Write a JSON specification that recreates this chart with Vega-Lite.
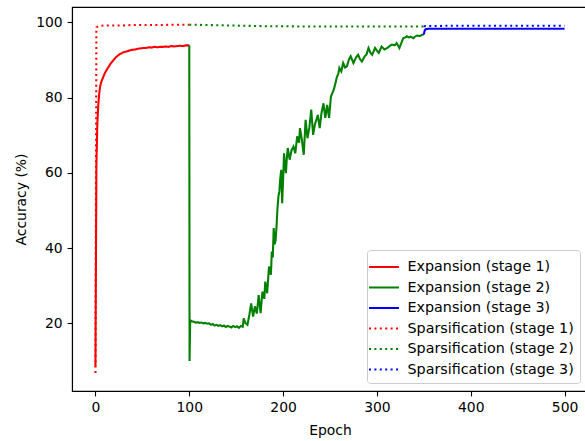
{
"$schema": "https://vega.github.io/schema/vega-lite/v6.json",
"autosize": "none",
"padding": {"left": 72, "top": 7, "right": 0, "bottom": 50},
"width": 516,
"height": 384,
"background": "white",
"config": {
"font": "DejaVu Sans",
"view": {"stroke": "black", "strokeWidth": 1.1},
"axis": {"domainColor": "black", "domainWidth": 1.1, "tickColor": "black", "tickWidth": 1.1, "tickSize": 4.9, "labelFontSize": 13.9, "labelColor": "black", "titleFontSize": 13.9, "titleFontWeight": "normal", "titleColor": "black", "grid": false, "labelPadding": 4.9, "labelFont": "DejaVu Sans", "titleFont": "DejaVu Sans"},
"legend": {"symbolType": "M-1.5,0H1.5", "symbolSize": 400, "symbolStrokeWidth": 2.1, "labelFontSize": 14.3, "labelFont": "DejaVu Sans", "labelColor": "black", "labelOffset": 12, "padding": 5.5, "fillColor": "rgba(255,255,255,0.8)", "strokeColor": "#cccccc", "cornerRadius": 3, "rowPadding": 1.5, "labelLimit": 300}
},
"data": {"values": [
{"series":"Expansion (stage 1)","epoch":0,"acc":8.5},{"series":"Expansion (stage 1)","epoch":1,"acc":62},{"series":"Expansion (stage 1)","epoch":2,"acc":73},{"series":"Expansion (stage 1)","epoch":3,"acc":78},{"series":"Expansion (stage 1)","epoch":4,"acc":81},{"series":"Expansion (stage 1)","epoch":5,"acc":83},{"series":"Expansion (stage 1)","epoch":6,"acc":84},{"series":"Expansion (stage 1)","epoch":8,"acc":85.3},{"series":"Expansion (stage 1)","epoch":10,"acc":86.5},{"series":"Expansion (stage 1)","epoch":12,"acc":87.4},{"series":"Expansion (stage 1)","epoch":14,"acc":88.2},{"series":"Expansion (stage 1)","epoch":16,"acc":89},{"series":"Expansion (stage 1)","epoch":18,"acc":89.6},{"series":"Expansion (stage 1)","epoch":20,"acc":90.2},{"series":"Expansion (stage 1)","epoch":22,"acc":90.8},{"series":"Expansion (stage 1)","epoch":24,"acc":91.2},{"series":"Expansion (stage 1)","epoch":26,"acc":91.6},{"series":"Expansion (stage 1)","epoch":28,"acc":91.8},{"series":"Expansion (stage 1)","epoch":30,"acc":92.1},{"series":"Expansion (stage 1)","epoch":33,"acc":92.3},{"series":"Expansion (stage 1)","epoch":36,"acc":92.5},{"series":"Expansion (stage 1)","epoch":39,"acc":92.7},{"series":"Expansion (stage 1)","epoch":42,"acc":92.8},{"series":"Expansion (stage 1)","epoch":45,"acc":93.0},{"series":"Expansion (stage 1)","epoch":48,"acc":93.1},{"series":"Expansion (stage 1)","epoch":51,"acc":93.2},{"series":"Expansion (stage 1)","epoch":54,"acc":93.2},{"series":"Expansion (stage 1)","epoch":57,"acc":93.4},{"series":"Expansion (stage 1)","epoch":60,"acc":93.3},{"series":"Expansion (stage 1)","epoch":63,"acc":93.5},{"series":"Expansion (stage 1)","epoch":66,"acc":93.4},{"series":"Expansion (stage 1)","epoch":69,"acc":93.5},{"series":"Expansion (stage 1)","epoch":72,"acc":93.5},{"series":"Expansion (stage 1)","epoch":75,"acc":93.6},{"series":"Expansion (stage 1)","epoch":78,"acc":93.5},{"series":"Expansion (stage 1)","epoch":81,"acc":93.7},{"series":"Expansion (stage 1)","epoch":84,"acc":93.6},{"series":"Expansion (stage 1)","epoch":87,"acc":93.7},{"series":"Expansion (stage 1)","epoch":90,"acc":93.8},{"series":"Expansion (stage 1)","epoch":93,"acc":93.7},{"series":"Expansion (stage 1)","epoch":96,"acc":93.9},{"series":"Expansion (stage 1)","epoch":100,"acc":93.9},
{"series":"Expansion (stage 2)","epoch":100,"acc":93.9},{"series":"Expansion (stage 2)","epoch":100.3,"acc":10.0},{"series":"Expansion (stage 2)","epoch":101,"acc":20.8},{"series":"Expansion (stage 2)","epoch":103,"acc":20.5},{"series":"Expansion (stage 2)","epoch":105,"acc":20.4},{"series":"Expansion (stage 2)","epoch":107,"acc":20.2},{"series":"Expansion (stage 2)","epoch":109,"acc":20.3},{"series":"Expansion (stage 2)","epoch":111,"acc":20.1},{"series":"Expansion (stage 2)","epoch":113,"acc":20.2},{"series":"Expansion (stage 2)","epoch":115,"acc":20.0},{"series":"Expansion (stage 2)","epoch":117,"acc":20.1},{"series":"Expansion (stage 2)","epoch":119,"acc":19.9},{"series":"Expansion (stage 2)","epoch":121,"acc":20.0},{"series":"Expansion (stage 2)","epoch":123,"acc":19.6},{"series":"Expansion (stage 2)","epoch":125,"acc":19.8},{"series":"Expansion (stage 2)","epoch":127,"acc":19.4},{"series":"Expansion (stage 2)","epoch":129,"acc":19.6},{"series":"Expansion (stage 2)","epoch":131,"acc":19.3},{"series":"Expansion (stage 2)","epoch":133,"acc":19.5},{"series":"Expansion (stage 2)","epoch":135,"acc":19.2},{"series":"Expansion (stage 2)","epoch":137,"acc":19.4},{"series":"Expansion (stage 2)","epoch":139,"acc":19.0},{"series":"Expansion (stage 2)","epoch":141,"acc":19.3},{"series":"Expansion (stage 2)","epoch":143,"acc":19.1},{"series":"Expansion (stage 2)","epoch":145,"acc":18.9},{"series":"Expansion (stage 2)","epoch":147,"acc":19.3},{"series":"Expansion (stage 2)","epoch":149,"acc":19.0},{"series":"Expansion (stage 2)","epoch":151,"acc":19.2},{"series":"Expansion (stage 2)","epoch":153,"acc":18.8},{"series":"Expansion (stage 2)","epoch":155,"acc":19.3},{"series":"Expansion (stage 2)","epoch":157,"acc":19.1},{"series":"Expansion (stage 2)","epoch":158,"acc":21.3},{"series":"Expansion (stage 2)","epoch":160,"acc":20.0},{"series":"Expansion (stage 2)","epoch":162,"acc":19.6},{"series":"Expansion (stage 2)","epoch":164,"acc":22.2},{"series":"Expansion (stage 2)","epoch":166,"acc":25.3},{"series":"Expansion (stage 2)","epoch":168,"acc":21.8},{"series":"Expansion (stage 2)","epoch":170,"acc":24.5},{"series":"Expansion (stage 2)","epoch":172,"acc":22.6},{"series":"Expansion (stage 2)","epoch":174,"acc":27.5},{"series":"Expansion (stage 2)","epoch":176,"acc":22.7},{"series":"Expansion (stage 2)","epoch":178,"acc":28.4},{"series":"Expansion (stage 2)","epoch":180,"acc":26.5},{"series":"Expansion (stage 2)","epoch":181,"acc":31.1},{"series":"Expansion (stage 2)","epoch":183,"acc":28.0},{"series":"Expansion (stage 2)","epoch":185,"acc":35.1},{"series":"Expansion (stage 2)","epoch":187,"acc":32.9},{"series":"Expansion (stage 2)","epoch":188,"acc":39.1},{"series":"Expansion (stage 2)","epoch":189,"acc":37.5},{"series":"Expansion (stage 2)","epoch":190,"acc":45.3},{"series":"Expansion (stage 2)","epoch":191,"acc":41.0},{"series":"Expansion (stage 2)","epoch":192,"acc":42.0},{"series":"Expansion (stage 2)","epoch":193,"acc":45.7},{"series":"Expansion (stage 2)","epoch":194,"acc":50.5},{"series":"Expansion (stage 2)","epoch":195,"acc":53.7},{"series":"Expansion (stage 2)","epoch":196,"acc":55.0},{"series":"Expansion (stage 2)","epoch":197,"acc":58.5},{"series":"Expansion (stage 2)","epoch":198,"acc":60.8},{"series":"Expansion (stage 2)","epoch":199,"acc":51.9},{"series":"Expansion (stage 2)","epoch":200,"acc":58.0},{"series":"Expansion (stage 2)","epoch":201,"acc":65.2},{"series":"Expansion (stage 2)","epoch":202,"acc":62.0},{"series":"Expansion (stage 2)","epoch":203,"acc":59.9},{"series":"Expansion (stage 2)","epoch":204,"acc":64.0},{"series":"Expansion (stage 2)","epoch":205,"acc":66.6},{"series":"Expansion (stage 2)","epoch":207,"acc":63.5},{"series":"Expansion (stage 2)","epoch":209,"acc":66.0},{"series":"Expansion (stage 2)","epoch":211,"acc":67.0},{"series":"Expansion (stage 2)","epoch":213,"acc":65.2},{"series":"Expansion (stage 2)","epoch":215,"acc":69.7},{"series":"Expansion (stage 2)","epoch":217,"acc":68.0},{"series":"Expansion (stage 2)","epoch":218,"acc":71.9},{"series":"Expansion (stage 2)","epoch":220,"acc":68.8},{"series":"Expansion (stage 2)","epoch":222,"acc":64.8},{"series":"Expansion (stage 2)","epoch":224,"acc":74.1},{"series":"Expansion (stage 2)","epoch":226,"acc":69.2},{"series":"Expansion (stage 2)","epoch":228,"acc":72.0},{"series":"Expansion (stage 2)","epoch":230,"acc":76.8},{"series":"Expansion (stage 2)","epoch":232,"acc":70.1},{"series":"Expansion (stage 2)","epoch":234,"acc":73.0},{"series":"Expansion (stage 2)","epoch":236,"acc":74.5},{"series":"Expansion (stage 2)","epoch":237,"acc":75.4},{"series":"Expansion (stage 2)","epoch":239,"acc":71.9},{"series":"Expansion (stage 2)","epoch":241,"acc":76.0},{"series":"Expansion (stage 2)","epoch":243,"acc":78.5},{"series":"Expansion (stage 2)","epoch":245,"acc":74.6},{"series":"Expansion (stage 2)","epoch":247,"acc":78.1},{"series":"Expansion (stage 2)","epoch":249,"acc":74.6},{"series":"Expansion (stage 2)","epoch":251,"acc":80.3},{"series":"Expansion (stage 2)","epoch":254,"acc":82.1},{"series":"Expansion (stage 2)","epoch":256,"acc":84.0},{"series":"Expansion (stage 2)","epoch":257,"acc":85.2},{"series":"Expansion (stage 2)","epoch":259,"acc":86.5},{"series":"Expansion (stage 2)","epoch":260,"acc":87.9},{"series":"Expansion (stage 2)","epoch":262,"acc":87.0},{"series":"Expansion (stage 2)","epoch":264,"acc":89.2},{"series":"Expansion (stage 2)","epoch":266,"acc":88.0},{"series":"Expansion (stage 2)","epoch":268,"acc":88.3},{"series":"Expansion (stage 2)","epoch":270,"acc":90.0},{"series":"Expansion (stage 2)","epoch":272,"acc":91.0},{"series":"Expansion (stage 2)","epoch":275,"acc":89.2},{"series":"Expansion (stage 2)","epoch":278,"acc":90.8},{"series":"Expansion (stage 2)","epoch":280,"acc":91.4},{"series":"Expansion (stage 2)","epoch":282,"acc":90.2},{"series":"Expansion (stage 2)","epoch":284,"acc":89.6},{"series":"Expansion (stage 2)","epoch":287,"acc":91.0},{"series":"Expansion (stage 2)","epoch":289,"acc":91.5},{"series":"Expansion (stage 2)","epoch":291,"acc":93.2},{"series":"Expansion (stage 2)","epoch":293,"acc":92.0},{"series":"Expansion (stage 2)","epoch":295,"acc":91.4},{"series":"Expansion (stage 2)","epoch":298,"acc":93.2},{"series":"Expansion (stage 2)","epoch":300,"acc":92.5},{"series":"Expansion (stage 2)","epoch":302,"acc":91.9},{"series":"Expansion (stage 2)","epoch":305,"acc":93.6},{"series":"Expansion (stage 2)","epoch":308,"acc":92.8},{"series":"Expansion (stage 2)","epoch":311,"acc":93.2},{"series":"Expansion (stage 2)","epoch":314,"acc":93.8},{"series":"Expansion (stage 2)","epoch":316,"acc":94.1},{"series":"Expansion (stage 2)","epoch":319,"acc":93.9},{"series":"Expansion (stage 2)","epoch":321,"acc":94.5},{"series":"Expansion (stage 2)","epoch":324,"acc":93.2},{"series":"Expansion (stage 2)","epoch":326,"acc":94.5},{"series":"Expansion (stage 2)","epoch":328,"acc":95.8},{"series":"Expansion (stage 2)","epoch":330,"acc":96.0},{"series":"Expansion (stage 2)","epoch":332,"acc":96.3},{"series":"Expansion (stage 2)","epoch":334,"acc":96.0},{"series":"Expansion (stage 2)","epoch":336,"acc":96.2},{"series":"Expansion (stage 2)","epoch":339,"acc":95.8},{"series":"Expansion (stage 2)","epoch":341,"acc":96.3},{"series":"Expansion (stage 2)","epoch":343,"acc":96.5},{"series":"Expansion (stage 2)","epoch":346,"acc":96.4},{"series":"Expansion (stage 2)","epoch":348,"acc":96.7},{"series":"Expansion (stage 2)","epoch":350,"acc":96.8},
{"series":"Expansion (stage 3)","epoch":350,"acc":96.8},{"series":"Expansion (stage 3)","epoch":351,"acc":97.9},{"series":"Expansion (stage 3)","epoch":352,"acc":98.2},{"series":"Expansion (stage 3)","epoch":355,"acc":98.3},{"series":"Expansion (stage 3)","epoch":360,"acc":98.3},{"series":"Expansion (stage 3)","epoch":380,"acc":98.3},{"series":"Expansion (stage 3)","epoch":400,"acc":98.3},{"series":"Expansion (stage 3)","epoch":420,"acc":98.3},{"series":"Expansion (stage 3)","epoch":440,"acc":98.3},{"series":"Expansion (stage 3)","epoch":460,"acc":98.3},{"series":"Expansion (stage 3)","epoch":480,"acc":98.3},{"series":"Expansion (stage 3)","epoch":500,"acc":98.3},
{"series":"Sparsification (stage 1)","epoch":0,"acc":6.8},{"series":"Sparsification (stage 1)","epoch":1,"acc":98.7},{"series":"Sparsification (stage 1)","epoch":3,"acc":99.0},{"series":"Sparsification (stage 1)","epoch":6,"acc":99.1},{"series":"Sparsification (stage 1)","epoch":10,"acc":99.2},{"series":"Sparsification (stage 1)","epoch":20,"acc":99.2},{"series":"Sparsification (stage 1)","epoch":30,"acc":99.2},{"series":"Sparsification (stage 1)","epoch":40,"acc":99.3},{"series":"Sparsification (stage 1)","epoch":50,"acc":99.3},{"series":"Sparsification (stage 1)","epoch":60,"acc":99.3},{"series":"Sparsification (stage 1)","epoch":70,"acc":99.3},{"series":"Sparsification (stage 1)","epoch":80,"acc":99.4},{"series":"Sparsification (stage 1)","epoch":90,"acc":99.4},{"series":"Sparsification (stage 1)","epoch":100,"acc":99.4},
{"series":"Sparsification (stage 2)","epoch":100,"acc":99.4},{"series":"Sparsification (stage 2)","epoch":120,"acc":99.3},{"series":"Sparsification (stage 2)","epoch":140,"acc":99.2},{"series":"Sparsification (stage 2)","epoch":160,"acc":99.1},{"series":"Sparsification (stage 2)","epoch":180,"acc":99.0},{"series":"Sparsification (stage 2)","epoch":200,"acc":99.0},{"series":"Sparsification (stage 2)","epoch":220,"acc":98.9},{"series":"Sparsification (stage 2)","epoch":240,"acc":98.9},{"series":"Sparsification (stage 2)","epoch":260,"acc":98.9},{"series":"Sparsification (stage 2)","epoch":280,"acc":98.9},{"series":"Sparsification (stage 2)","epoch":300,"acc":98.9},{"series":"Sparsification (stage 2)","epoch":320,"acc":98.9},{"series":"Sparsification (stage 2)","epoch":340,"acc":98.9},{"series":"Sparsification (stage 2)","epoch":350,"acc":98.9},
{"series":"Sparsification (stage 3)","epoch":350,"acc":99.0},{"series":"Sparsification (stage 3)","epoch":375,"acc":99.1},{"series":"Sparsification (stage 3)","epoch":400,"acc":99.1},{"series":"Sparsification (stage 3)","epoch":425,"acc":99.1},{"series":"Sparsification (stage 3)","epoch":450,"acc":99.1},{"series":"Sparsification (stage 3)","epoch":475,"acc":99.1},{"series":"Sparsification (stage 3)","epoch":500,"acc":99.1}
]},
"mark": {"type": "line", "strokeWidth": 2.08},
"encoding": {
"x": {"field": "epoch", "type": "quantitative", "scale": {"domain": [-25, 525], "nice": false, "zero": false}, "axis": {"values": [0, 100, 200, 300, 400, 500], "title": "Epoch", "titlePadding": 9}},
"y": {"field": "acc", "type": "quantitative", "scale": {"domain": [2.0, 104.1], "nice": false, "zero": false}, "axis": {"values": [20, 40, 60, 80, 100], "title": "Accuracy (%)", "titlePadding": 7}},
"color": {"field": "series", "type": "nominal", "scale": {"domain": ["Expansion (stage 1)", "Expansion (stage 2)", "Expansion (stage 3)", "Sparsification (stage 1)", "Sparsification (stage 2)", "Sparsification (stage 3)"], "range": ["#ff0000", "#008000", "#0000ff", "#ff0000", "#008000", "#0000ff"]}, "legend": {"title": null, "orient": "bottom-right", "offset": 8}},
"strokeDash": {"field": "series", "type": "nominal", "scale": {"domain": ["Expansion (stage 1)", "Expansion (stage 2)", "Expansion (stage 3)", "Sparsification (stage 1)", "Sparsification (stage 2)", "Sparsification (stage 3)"], "range": [[1, 0], [1, 0], [1, 0], [2, 3.4], [2, 3.4], [2, 3.4]]}, "legend": {"title": null, "orient": "bottom-right", "offset": 8}}
}
}
